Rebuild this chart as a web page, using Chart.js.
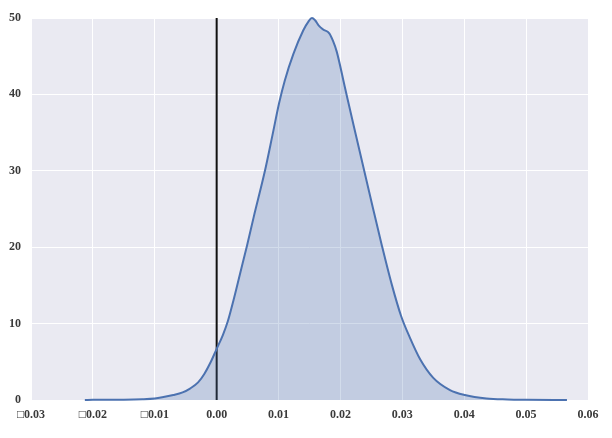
<!DOCTYPE html>
<html>
<head>
<meta charset="utf-8">
<script src="https://cdn.jsdelivr.net/npm/chart.js@4/dist/chart.umd.min.js"></script>
<style>
  html, body { margin: 0; padding: 0; background: #fff; }
  #wrap { width: 612px; height: 438px; }
</style>
</head>
<body>
<div id="wrap"><canvas id="kde"></canvas></div>
<script>
// density curve
const kdeX = [-0.0213, -0.02, -0.015, -0.012, -0.01, -0.0088, -0.007, -0.0055, -0.0043, -0.003, -0.002, -0.001,
    0, 0.001, 0.0018, 0.0027, 0.0038, 0.0049, 0.006, 0.0078, 0.009, 0.0101, 0.011, 0.0124, 0.014, 0.0148,
    0.0154, 0.0159, 0.0165, 0.0172, 0.0182, 0.0188, 0.0194, 0.0207, 0.0222, 0.0237, 0.0252, 0.0267, 0.0283,
    0.0298, 0.0312, 0.0329, 0.035, 0.0377, 0.0401, 0.0436, 0.047, 0.05, 0.0566];
const kdeY = [0, 0.02, 0.04, 0.1, 0.2, 0.35, 0.65, 1.0, 1.5, 2.3, 3.4, 4.9,
    6.7, 8.5, 10.3, 13.0, 16.6, 20.2, 24.0, 30.0, 34.6, 38.9, 41.8, 45.3, 48.4, 49.5,
    50, 49.7, 49.0, 48.5, 48.0, 47.0, 45.6, 41.0, 35.7, 30.5, 25.3, 20.2, 15.1,
    11.0, 8.2, 5.3, 2.9, 1.3, 0.65, 0.2, 0.08, 0.04, 0];

// vertical reference line at zero
const zeroX = [0, 0];
const zeroY = [0, 50];

const xMin = -0.03, xMax = 0.06, xStep = 0.01;
const yMin = 0, yMax = 50, yStep = 10;

// seaborn darkgrid background
const bgPlugin = {
    id: 'bg',
    beforeDraw(chart) {
        const a = chart.chartArea;
        const ctx = chart.ctx;
        ctx.save();
        ctx.fillStyle = '#EAEAF2';
        ctx.fillRect(a.left, a.top, a.right - a.left, a.bottom - a.top);
        ctx.restore();
    }
};

const tickFont = { family: "'Liberation Serif', 'DejaVu Serif', serif", size: 12, weight: 'bold' };

new Chart(document.getElementById('kde'), {
    type: 'line',
    data: {
        datasets: [{
            data: kdeX.map((x, i) => ({ x: x, y: kdeY[i] })),
            borderColor: '#4C72B0',
            borderWidth: 2,
            backgroundColor: 'rgba(76,114,176,0.25)',
            fill: 'origin',
            pointRadius: 0,
            cubicInterpolationMode: 'monotone',
            clip: false
        }, {
            data: zeroX.map((x, i) => ({ x: x, y: zeroY[i] })),
            borderColor: '#111',
            borderWidth: 2,
            pointRadius: 0,
            fill: false
        }]
    },
    options: {
        responsive: true,
        maintainAspectRatio: false,
        animation: false,
        layout: { padding: { left: 0, right: 24, top: 18, bottom: 0 } },
        plugins: { legend: { display: false }, tooltip: { enabled: false } },
        scales: {
            x: {
                type: 'linear',
                min: xMin, max: xMax,
                border: { display: false },
                grid: { color: '#ffffff', lineWidth: 1, drawTicks: false },
                afterFit(s) { s.height = 38; },
                ticks: {
                    stepSize: xStep,
                    padding: 8,
                    color: '#3a3a3a',
                    font: tickFont,
                    maxRotation: 0,
                    callback(v) {
                        const r = Math.round(v * 100) / 100;
                        return (r < 0 ? '\u25A1' : '') + Math.abs(r).toFixed(2);
                    }
                }
            },
            y: {
                min: yMin, max: yMax,
                border: { display: false },
                grid: { color: '#ffffff', lineWidth: 1, drawTicks: false },
                afterFit(s) { s.width = 31; },
                ticks: {
                    stepSize: yStep,
                    padding: 10,
                    color: '#3a3a3a',
                    font: tickFont
                }
            }
        }
    },
    plugins: [bgPlugin]
});
</script>
</body>
</html>
